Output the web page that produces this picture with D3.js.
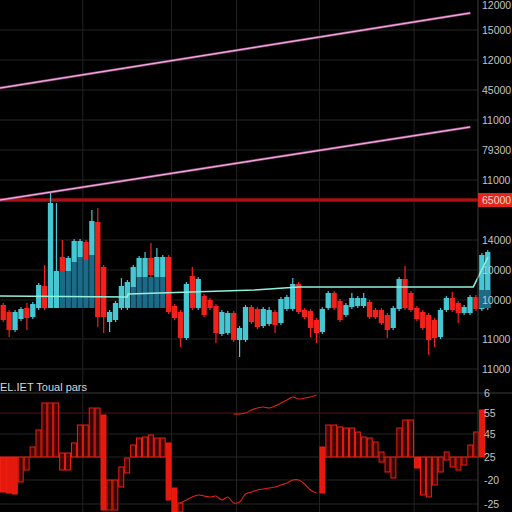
<!DOCTYPE html>
<html>
<head>
<meta charset="utf-8">
<script src="https://cdn.jsdelivr.net/npm/d3@7"></script>
<style>
  html, body { margin: 0; padding: 0; background: #000; }
  svg { display: block; }
</style>
</head>
<body>
<svg width="512" height="512"></svg>
<script>
// candles (price units of the upper panel)
const open  = [85,78,60,71,82,73,82,104,82,82,133,119,128,133,148,135,168,123,68,70,82,82,103,113,113,132,113,113,133,84,78,52,114,82,94,90,84,56,57,77,50,50,83,81,64,66,78,67,81,81,106,80,79,70,58,82,97,89,75,83,84,84,88,80,80,75,62,81,111,97,82,78,75,70,53,80,92,87,77,77,93,81,82];
const high  = [87,80,80,83,87,88,107,125,197,187,150,134,151,151,150,180,182,125,80,89,112,110,125,134,138,147,142,135,135,86,80,108,123,113,96,92,86,80,79,79,64,85,85,83,83,83,80,93,95,112,108,82,81,72,83,99,99,91,87,97,94,97,90,82,82,77,84,113,124,99,84,80,77,72,82,94,98,89,85,95,95,137,140];
const low   = [68,53,58,69,60,71,80,80,82,82,117,117,126,131,128,133,63,57,58,68,80,80,101,111,111,105,111,111,76,70,43,50,80,80,73,80,47,54,55,48,33,48,66,61,62,64,57,65,79,79,76,71,53,47,56,80,80,68,73,81,82,82,71,71,65,52,60,79,80,78,69,60,35,43,51,78,78,67,75,75,79,79,80];
const close = [70,60,78,81,72,86,105,82,187,119,119,132,149,149,130,169,73,73,78,87,104,108,123,132,132,115,133,133,78,72,52,106,82,111,75,82,57,78,77,50,62,83,68,63,81,80,65,91,93,106,78,73,62,57,81,97,82,70,85,92,92,92,73,73,67,60,82,111,82,80,71,62,50,52,80,92,80,77,83,93,81,135,138];

// dark teal fill under some candles (0 = none)
const deep = [0,0,0,0,0,0,0,0,0,0,119,119,128,133,130,135,0,0,0,0,0,0,103,113,113,113,113,113,0,0,0,0,0,0,0,0,0,0,0,0,0,0,0,0,0,0,0,0,0,0,0,0,0,0,0,0,0,0,0,0,0,0,0,0,0,0,0,0,0,0,0,0,0,0,0,0,0,0,0,0,0,100,100];
const deepBase = 82;

// average line vertices [candle index, value]
const maIdx = [0, 21.5, 21.7, 43, 50.5, 80, 82.5];
const maVal = [94, 93, 96, 100, 103, 103, 133];

// trend lines
const trendIdx = [0, 79.5];
const trendA = [302, 377];
const trendB = [190, 263];
const level = 190;
const levelLabel = "65000";

// upper axis
const upTicks = [385, 360, 330, 300, 270, 240, 210, 150, 120, 90, 51, 21];
const upLabels = ["12000","15000","12000","45000","11000","79300","11000","14000","10000","10000","11000","11000"];

// lower panel bars (top / bottom), null = no bar
const N = null;
const lowHi = [55,55,55,55,55,65,82,109,109,109,59,59,69,87,87,104,104,97,32,32,45,54,67,74,75,77,74,74,69,24,9,
  N,N,N,N,N,N,N,N,N,N,N,N,N,N,N,N,N,N,N,N,N,N,N,
  65,87,87,85,84,84,80,75,74,70,60,55,55,84,92,92,55,55,55,55,55,60,55,55,55,67,80,102,N];
const lowLo = [20,19,18,30,42,55,55,55,55,55,42,42,55,55,55,55,55,2,2,2,25,39,55,55,55,55,55,55,12,0,0,
  N,N,N,N,N,N,N,N,N,N,N,N,N,N,N,N,N,N,N,N,N,N,N,
  19,55,55,55,55,55,55,55,55,55,50,40,34,55,55,55,44,17,15,27,40,52,45,42,47,55,55,55,N];
const lowFilled = [0, 1, 2, 17, 28, 29, 54, 70, 81];

// lower panel lines
const lineIdx = [30,31,32,33,34,35,36,37,38,39,40,41,42,43,44,45,46,47,48,49,50,51,52,53];
const lineLow = [9,12,15,17,16,15,16,12,15,9,10,18,20,22,23,24,25,27,29,32,32,28,22,19];
const line2Idx = [39,40,41,42,43,44,45,46,47,48,49,50,51,52,53];
const line2Val = [98,98,99,102,104,105,104,106,109,112,115,113,114,115,117];

// lower axis
const loTicks = [119, 99, 78, 55, 32, 8];
const loLabels = ["6","55","45","25","-20","-25"];
const panelTitle = "EL.IET Toual pars";

const gridIdx = [14, 29, 40, 54, 70];

const svg = d3.select('svg');
const n = open.length;
const axisX = 478;
const font = 'Liberation Sans, Arial, sans-serif';

const x = d3.scaleBand().domain(d3.range(n)).range([0, 491]).padding(0.1);
const xl = d3.scaleLinear().domain([0, n]).range([0, 491]);
const y = d3.scaleLinear().domain([0, 390]).range([390, 0]);
const y2 = d3.scaleLinear().domain([0, 120]).range([512, 392]);
const cx = i => x(i) + x.bandwidth() / 2;

svg.append('rect').attr('width', 512).attr('height', 512).attr('fill', '#000');

// grid
const grid = svg.append('g');
grid.selectAll('.hg').data(upTicks.slice(1)).enter().append('line')
  .attr('x1', 0).attr('x2', axisX)
  .attr('y1', d => y(d)).attr('y2', d => y(d))
  .attr('stroke', '#242424').attr('stroke-width', 1);
grid.selectAll('.lg').data(loTicks).enter().append('line')
  .attr('x1', 0).attr('x2', (d, i) => i === 0 ? 512 : axisX)
  .attr('y1', d => y2(d)).attr('y2', d => y2(d))
  .attr('stroke', (d, i) => i === 1 ? '#561313' : (i === 0 ? '#3a3a3a' : '#242424'))
  .attr('stroke-width', 1);
grid.selectAll('.vg').data(gridIdx).enter().append('line')
  .attr('x1', d => xl(d)).attr('x2', d => xl(d))
  .attr('y1', 0).attr('y2', 512)
  .attr('stroke', '#242424').attr('stroke-width', 1);

// red level line
svg.append('line')
  .attr('x1', 0).attr('x2', axisX)
  .attr('y1', y(level)).attr('y2', y(level))
  .attr('stroke', '#7e0b0b').attr('stroke-width', 4);
svg.append('line')
  .attr('x1', 0).attr('x2', axisX)
  .attr('y1', y(level)).attr('y2', y(level))
  .attr('stroke', '#b81616').attr('stroke-width', 1.5);

// trend lines
[trendA, trendB].forEach(t => {
  const ln = d3.line().x((d, i) => xl(trendIdx[i])).y(d => y(d));
  svg.append('path').attr('d', ln(t)).attr('fill', 'none')
    .attr('stroke', '#a8508e').attr('stroke-width', 2.4);
  svg.append('path').attr('d', ln(t)).attr('fill', 'none')
    .attr('stroke', '#f0bde8').attr('stroke-width', 1);
});

// candles
const up = i => close[i] >= open[i];
const col = i => up(i) ? '#45c8d4' : '#f2221a';
const cg = svg.append('g');
cg.selectAll('.wick').data(d3.range(n)).enter().append('line')
  .attr('x1', cx).attr('x2', cx)
  .attr('y1', i => y(high[i])).attr('y2', i => y(low[i]))
  .attr('stroke', col).attr('stroke-width', 1.2);
cg.selectAll('.body').data(d3.range(n)).enter().append('rect')
  .attr('x', i => x(i)).attr('width', x.bandwidth())
  .attr('y', i => y(Math.max(open[i], close[i])))
  .attr('height', i => Math.max(1, Math.abs(y(open[i]) - y(close[i]))))
  .attr('fill', col);

// dark teal fill
cg.selectAll('.deep').data(d3.range(n).filter(i => deep[i] > 0)).enter().append('rect')
  .attr('x', i => x(i)).attr('width', x.bandwidth())
  .attr('y', i => y(deep[i]))
  .attr('height', i => y(deepBase) - y(deep[i]))
  .attr('fill', '#1b6a88');

// average line
svg.append('path')
  .attr('d', d3.line().x((d, i) => xl(maIdx[i])).y(d => y(d))(maVal))
  .attr('fill', 'none').attr('stroke', '#92f0dc').attr('stroke-width', 1.6);

// lower panel bars
const lb = svg.append('g');
const lowIdx = d3.range(n).filter(i => lowHi[i] !== null);
lb.selectAll('rect').data(lowIdx).enter().append('rect')
  .attr('x', i => xl(i) + 0.5).attr('width', xl(1) - xl(0) - 1)
  .attr('y', i => y2(lowHi[i]))
  .attr('height', i => y2(lowLo[i]) - y2(lowHi[i]))
  .attr('fill', i => lowFilled.includes(i) ? '#e4180e' : 'rgba(170,8,4,0.35)')
  .attr('stroke', '#f2200f').attr('stroke-width', 1);

// lower panel lines
svg.append('path')
  .attr('d', d3.line().x((d, i) => xl(lineIdx[i] + 0.5)).y(d => y2(d)).curve(d3.curveCatmullRom)(lineLow))
  .attr('fill', 'none').attr('stroke', '#e0241a').attr('stroke-width', 1.1);
svg.append('path')
  .attr('d', d3.line().x((d, i) => xl(line2Idx[i] + 0.5)).y(d => y2(d)).curve(d3.curveCatmullRom)(line2Val))
  .attr('fill', 'none').attr('stroke', '#e0241a').attr('stroke-width', 1.1);

// panel title
svg.append('text')
  .attr('x', 0).attr('y', 391)
  .attr('font-family', font)
  .attr('font-size', 11).attr('fill', '#d8d8d8')
  .text(panelTitle);

// right axis
svg.append('line')
  .attr('x1', axisX).attr('x2', axisX).attr('y1', 0).attr('y2', 512)
  .attr('stroke', '#3c3c3c');

const upAxis = svg.append('g').attr('transform', `translate(${axisX},0)`)
  .call(d3.axisRight(y).tickValues(upTicks).tickSize(0).tickPadding(4)
    .tickFormat((d, i) => upLabels[i]));
const loAxis = svg.append('g').attr('transform', `translate(${axisX},0)`)
  .call(d3.axisRight(y2).tickValues(loTicks).tickSize(0).tickPadding(6)
    .tickFormat((d, i) => loLabels[i]));
[upAxis, loAxis].forEach(a => {
  a.select('.domain').remove();
  a.selectAll('text').attr('fill', '#c4c4c4').attr('font-size', 10.5)
    .attr('font-family', font);
});

// level box
svg.append('rect')
  .attr('x', axisX).attr('y', y(level) - 7).attr('width', 34).attr('height', 14)
  .attr('fill', '#e2261c');
svg.append('text')
  .attr('x', axisX + 4).attr('y', y(level) + 4)
  .attr('font-family', font)
  .attr('font-size', 10.5).attr('fill', '#ffd6d0')
  .text(levelLabel);
</script>
</body>
</html>
